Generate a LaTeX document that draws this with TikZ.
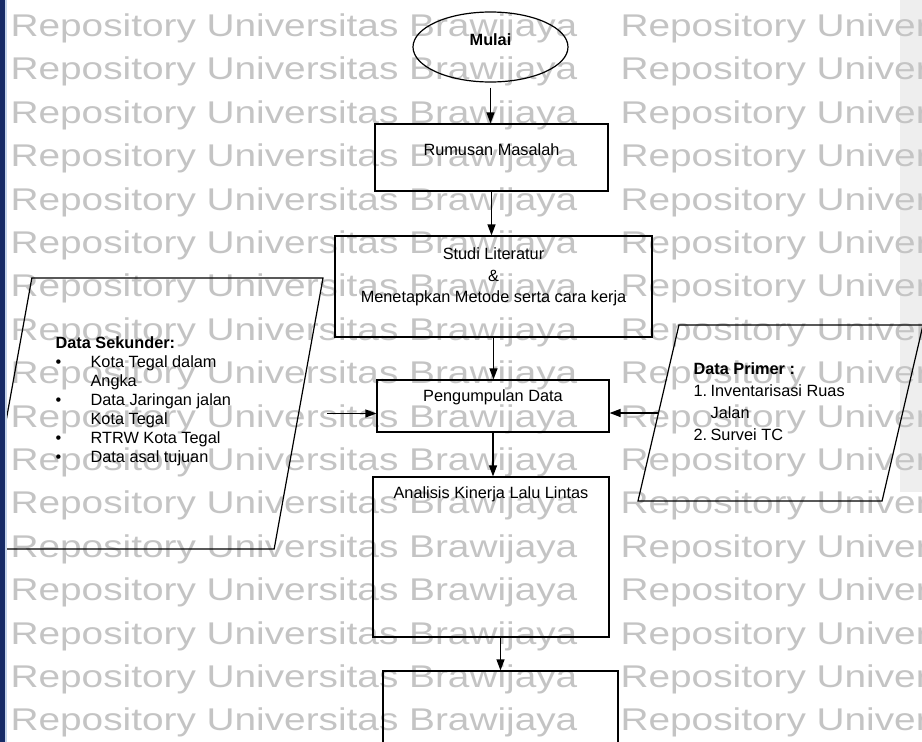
\documentclass[tikz,border=0pt]{standalone}
\usepackage{fontspec}
\setmainfont{Liberation Sans}
\newfontfamily\wmfont[FakeStretch=1.235]{Liberation Sans}
\usetikzlibrary{shapes.geometric,arrows.meta,positioning}
\definecolor{navy}{RGB}{22,42,102}
\definecolor{paleblue}{RGB}{196,212,236}
\definecolor{wmgray}{RGB}{196,196,196}
\definecolor{bandgray}{RGB}{238,238,238}

\begin{document}
\begin{tikzpicture}[x=1pt,y=-1pt,line width=1.2pt,
    >={Triangle[length=11pt,width=8pt]},
    kotak/.style={draw,rectangle},
    datashape/.style={draw,trapezium,trapezium left angle=78.6,
        trapezium right angle=101.4,trapezium stretches=true},
    teks/.style={inner sep=0pt,font=\fontsize{16.3}{19}\selectfont},
    judul/.style={teks,font=\fontsize{16.3}{19}\selectfont\bfseries},
    watermark/.style={inner sep=0pt,text=wmgray,
        font=\wmfont\fontsize{31.4}{31.4}\selectfont}]

\useasboundingbox (0,0) rectangle (922,742);
\clip (0,0) rectangle (922,742);

% background band and repository watermark
\fill[bandgray] (900,0) rectangle (922,492);
\foreach \k in {-1,...,16} {
  \node[watermark,anchor=base west] (wm\k a) at (10,{36.5+43.4*\k}) {Repository Universitas Brawijaya};
  \node[watermark,anchor=base west] (wm\k b) at (620,{36.5+43.4*\k}) {Repository Universitas Brawijaya};
}

% main flow
\node[draw,ellipse,minimum width=155pt,minimum height=70pt] (mulai) at (490.5,47) {};
\node[judul] (mulai-teks) at ([yshift=7pt]mulai.center) {Mulai};

\node[kotak,minimum width=233pt,minimum height=67pt] (rumusan) at (491.5,157.5) {};
\node[teks] (rumusan-teks) at ([yshift=7.5pt]rumusan.center) {Rumusan Masalah};

\node[kotak,minimum width=317pt,minimum height=101pt] (studi) at (493.5,286.5) {};
\node[teks,align=center,font=\fontsize{16.3}{21.5}\selectfont] (studi-teks)
    at ([yshift=9.5pt]studi.center) {Studi Literatur\\\&\\Menetapkan Metode serta cara kerja};

\node[kotak,minimum width=232pt,minimum height=52pt] (pengumpulan) at (493,406) {};
\node[teks] (pengumpulan-teks) at ([yshift=9pt]pengumpulan.center) {Pengumpulan Data};

\node[kotak,minimum width=236pt,minimum height=160pt] (analisis) at (491,557) {};
\node[teks,below=10pt of analisis.north] (analisis-teks) {Analisis Kinerja Lalu Lintas};

\node[kotak,minimum width=235pt,minimum height=150pt] (lanjut) at (500.5,746) {};

% data inputs
\node[datashape,minimum width=340pt,minimum height=271pt] (sekunder) at (153,413.5) {};
\node[teks,anchor=north west] (sekunder-isi) at (55,335) {%
    \begin{tabular}{@{}p{35pt}@{}l@{}}
    \multicolumn{2}{@{}l@{}}{\bfseries Data Sekunder:}\\
    \textbullet & Kota Tegal dalam\\
                & Angka\\
    \textbullet & Data Jaringan jalan\\
                & Kota Tegal\\
    \textbullet & RTRW Kota Tegal\\
    \textbullet & Data asal tujuan
    \end{tabular}};

\node[datashape,minimum width=285pt,minimum height=176pt] (primer) at (780.5,413) {};
\node[teks,anchor=north west,font=\fontsize{16.3}{22}\selectfont] (primer-isi) at (693,358) {%
    \begin{tabular}{@{}p{17pt}@{}l@{}}
    \multicolumn{2}{@{}l@{}}{\bfseries Data Primer :}\\
    1. & Inventarisasi Ruas\\
       & Jalan\\
    2. & Survei TC
    \end{tabular}};

% connectors
\draw[->] ([yshift=-5pt]mulai.south) -- (mulai.south |- rumusan.north);
\draw[->] (rumusan.south) -- (rumusan.south |- studi.north);
\draw[->] (studi.south) -- (studi.south |- pengumpulan.north);
\draw[->] (pengumpulan.south) -- (pengumpulan.south |- analisis.north);
\draw[->] (lanjut.north |- analisis.south) -- (lanjut.north);
\coordinate (sekunder-ujung) at ([xshift=28pt]sekunder.east);
\draw[->] (sekunder-ujung) -- (sekunder-ujung -| pengumpulan.west);
\draw[->] (primer.west) -- (primer.west -| pengumpulan.east);

% page edge bar
\fill[navy] (0,0) rectangle (5,742);
\fill[paleblue] (5,0) rectangle (6.5,742);
\end{tikzpicture}
\end{document}
